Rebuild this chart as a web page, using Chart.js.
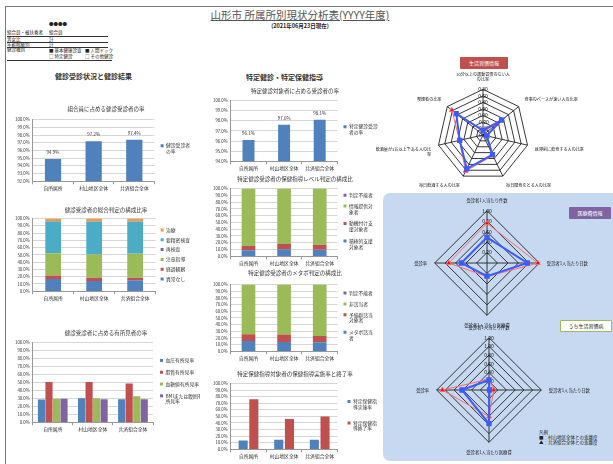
<!DOCTYPE html>
<html>
<head>
<meta charset="utf-8">
<script src="https://cdn.jsdelivr.net/npm/chart.js@4.4.0/dist/chart.umd.min.js"></script>
<style>
body{margin:0;width:613px;height:464px;overflow:hidden;background:#fff;position:relative;
  font-family:"Noto Sans CJK JP","Noto Sans",sans-serif;color:#222}
.abs{position:absolute}
.frameTop{left:5px;top:6px;width:608px;height:0;border-top:1.5px solid #777}
.frameLeft{left:5px;top:6px;width:0;height:458px;border-left:1.5px solid #777}
.title{left:0;width:600px;top:7px;text-align:center;font-size:10.5px;color:#555;text-decoration:underline}
.sub{left:0;width:600px;top:22px;text-align:center;font-size:5.5px;font-weight:bold}
.hd{font-size:4.5px;line-height:5px;white-space:nowrap}
.hline{height:0;border-top:0.8px solid #333}
.sec{font-size:7px;white-space:nowrap;color:#333;font-weight:bold}
.panel{left:383px;top:193px;width:240px;height:268px;background:#c6d9f1;border-radius:7px}
.btn{font-size:5px;color:#fff;text-align:center;line-height:12px;height:12px;border-radius:1px}
.cv{position:absolute}
</style>
</head>
<body>

<div class="abs frameTop"></div>
<div class="abs frameLeft"></div>

<div class="abs title">山形市 所属所別現状分析表(YYYY年度)</div>
<div class="abs sub">(2021年06月23日現在)</div>

<!-- header table -->
<div class="abs hd" style="left:49px;top:21px;font-weight:bold">●●●●</div>
<div class="abs hd" style="left:7px;top:30px">組合員・被扶養者</div>
<div class="abs hd" style="left:49px;top:30px">組合員</div>
<div class="abs hline" style="left:7px;top:36px;width:101px"></div>
<div class="abs hd" style="left:7px;top:37px">男女比</div>
<div class="abs hd" style="left:49px;top:37px">計</div>
<div class="abs hline" style="left:7px;top:42px;width:101px"></div>
<div class="abs hd" style="left:7px;top:42px">年齢階級別</div>
<div class="abs hd" style="left:49px;top:42px">計</div>
<div class="abs hline" style="left:7px;top:47px;width:101px"></div>
<div class="abs hd" style="left:7px;top:47px">健診種別</div>
<div class="abs hd" style="left:49px;top:48px">■ 基本健康診査</div>
<div class="abs hd" style="left:85px;top:48px">■ 人間ドック</div>
<div class="abs hd" style="left:49px;top:54px">□ 特定健診</div>
<div class="abs hd" style="left:85px;top:54px">□ その他健診</div>
<div class="abs hline" style="left:7px;top:60px;width:105px"></div>

<div class="abs sec" style="left:55px;top:71px">健診受診状況と健診結果</div>
<div class="abs sec" style="left:246px;top:72px">特定健診・特定保健指導</div>

<div class="abs panel"></div>
<div class="abs btn" style="left:460px;top:57px;width:48px;background:#c0504d">生活習慣情報</div>
<div class="abs btn" style="left:569px;top:207px;width:42px;background:#8064a2">医療費情報</div>
<div class="abs btn" style="left:560px;top:320px;width:50px;background:#fff;color:#222;border:1px solid #9bbb59;height:10px;line-height:10px">うち生活習慣病</div>
<div class="abs hd" style="left:539px;top:430px">凡例</div>
<div class="abs hd" style="left:539px;top:435px">■：村山地区全体との乖離度</div>
<div class="abs hd" style="left:539px;top:440px">▲：共済組合全体との乖離度</div>

<div class="cv" style="left:12px;top:104px;width:190px;height:88px"><canvas id="c1"></canvas></div>
<div class="cv" style="left:12px;top:205px;width:190px;height:97px"><canvas id="c2"></canvas></div>
<div class="cv" style="left:12px;top:328px;width:190px;height:105px"><canvas id="c3"></canvas></div>
<div class="cv" style="left:210px;top:86px;width:172px;height:86px"><canvas id="c4"></canvas></div>
<div class="cv" style="left:210px;top:174px;width:172px;height:93px"><canvas id="c5"></canvas></div>
<div class="cv" style="left:210px;top:268px;width:172px;height:94px"><canvas id="c6"></canvas></div>
<div class="cv" style="left:210px;top:369px;width:172px;height:91px"><canvas id="c7"></canvas></div>
<div class="cv" style="left:363px;top:67px;width:240px;height:126px"><canvas id="r1"></canvas></div>
<div class="cv" style="left:377px;top:198px;width:220px;height:130px"><canvas id="r2"></canvas></div>
<div class="cv" style="left:379px;top:325px;width:220px;height:130px"><canvas id="r3"></canvas></div>

<script>
/* ===============================
   DATA
================================ */
const categories = ["自所属所","村山地区全体","共済組合全体"];

// 組合員に占める健診受診者の率
const examLabel = ["健診受診者","の率"];
const examRate = [94.9, 97.2, 97.4];

// 健診受診者の総合判定の構成比率
const judgeLabels = ["異常なし","経過観察","注意指導","再検査","要精密検査","治療"];
const judgeNone   = [17.0, 14.0, 15.0];
const judgeWatch  = [4.7, 4.5, 3.5];
const judgeGuide  = [30.7, 32.0, 33.0];
const judgeRetest = [0.4, 0.5, 0.5];
const judgeDetail = [43.5, 45.0, 44.0];
const judgeCure   = [3.7, 4.0, 4.0];

// 健診受診者に占める有所見者の率
const findLabels = ["血圧有所見率","脂質有所見率","血糖値有所見率",["BMIまたは腹囲有","所見率"]];
const findBP    = [28.5, 30.0, 29.0];
const findLipid = [50.5, 50.5, 48.5];
const findSugar = [29.5, 30.0, 32.5];
const findBMI   = [29.5, 29.0, 29.0];

// 特定健診対象者に占める受診者の率
const tokuteiLabel = ["特定健診受診","者の率"];
const tokuteiRate = [96.1, 97.6, 98.1];

// 保健指導レベル判定の構成比
const levelLabels = [["積極的支援","対象者"],["動機付け支","援対象者"],["情報提供対","象者"],"判定不能者"];
const levelActive = [9.0, 10.5, 9.5];
const levelMotive = [6.0, 7.5, 7.5];
const levelInfo   = [85.0, 82.0, 83.0];
const levelNone   = [0.0, 0.0, 0.0];

// メタボ判定の構成比
const metaboLabels = [["メタボ該当","者"],["予備群該当","対象者"],"非該当者","判定不能者"];
const metaboYes  = [15.5, 14.0, 13.5];
const metaboPre  = [10.0, 11.0, 9.5];
const metaboNo   = [74.5, 75.0, 77.0];
const metaboNone = [0.0, 0.0, 0.0];

// 保健指導実施率と終了率
const guideLabels = [["特定保健指","導実施率"],["特定保健指","導終了率"]];
const guideStart = [13.5, 14.5, 14.5];
const guideEnd   = [76.0, 46.0, 50.0];

// 生活習慣情報 (radar)
const lifeAxes = [
  ["30分以上の運動習慣のない人","の比率"],
  "食事のペースが速い人の比率",
  "就寝前に飲食する人の比率",
  "毎日間食をとる人の比率",
  "毎日飲酒する人の比率",
  ["飲酒量が3合以上である人の比","率"],
  "喫煙者の比率"
];
const lifeMuraya = [-0.46, 0.13, -0.49, 0.07, 0.55, 0.13, 0.45];
const lifeKyosai = [-0.49, -0.05, -0.46, 0.10, 0.63, 0.14, 0.62];
const lifeTicks = [-0.6, 0.8, 0.2];

// 医療費情報 (radar)
const costAxes = ["受診者1人当たり件数","受診者1人当たり日数","受診者1人当たり医療費","受診率"];
const costMuraya = [0.49, 0.77, 0.25, 0.49];
const costKyosai = [0.76, 0.97, 0.26, 0.73];
const costTicks = [0, 1.0, 0.2];

// うち生活習慣病 (radar)
const lifeCostMuraya = [0.23, 0.01, 0.77, 0.62];
const lifeCostKyosai = [0.25, 0.11, 0.61, 1.07];
const lifeCostTicks = [0, 1.2, 0.2];

/* ===============================
   COLORS
================================ */
const BLUE="#4f81bd", RED="#c0504d", GREEN="#9bbb59", PURPLE="#8064a2", TEAL="#4bacc6", ORANGE="#f79646";

Chart.defaults.font.family = '"Noto Sans CJK JP","Noto Sans",sans-serif';
Chart.defaults.color = "#333";

/* ===============================
   HELPERS
================================ */
const valueLabels = {
  id:"valueLabels",
  afterDatasetsDraw(chart, args, opts){
    if(!opts.show) return;
    const ctx = chart.ctx;
    ctx.save();
    ctx.font = "4.5px " + Chart.defaults.font.family;
    ctx.fillStyle = "#333";
    ctx.textAlign = "center";
    chart.data.datasets.forEach((ds,i)=>{
      chart.getDatasetMeta(i).data.forEach((bar,j)=>{
        ctx.fillText(ds.data[j].toFixed(1)+"%", bar.x, bar.y-5);
      });
    });
    ctx.restore();
  }
};

function barChart(id, title, sets, opt){
  return new Chart(document.getElementById(id), {
    type:"bar",
    data:{labels:categories, datasets:sets},
    plugins:[valueLabels],
    options:{
      responsive:true, maintainAspectRatio:false, animation:false,
      layout:{padding:{top:2,right:2}},
      datasets:{bar:{categoryPercentage:opt.cat, barPercentage:opt.bar}},
      plugins:{
        title:{display:true,text:title,font:{size:5.5,weight:"normal"},color:"#333",padding:{top:0,bottom:opt.tpad}},
        legend:{position:"right",reverse:!!opt.stacked,
          labels:{boxWidth:3,boxHeight:3,font:{size:4.8},color:"#333",padding:opt.lpad||6}},
        tooltip:{enabled:false},
        valueLabels:{show:!!opt.values}
      },
      scales:{
        x:{stacked:!!opt.stacked,
          grid:{display:true,drawOnChartArea:false,tickLength:3,color:"#999",offset:true},
          border:{color:"#999"},
          ticks:{font:{size:4.8},color:"#333",maxRotation:0,padding:1}},
        y:{stacked:!!opt.stacked,min:opt.min,max:opt.max,
          ticks:{stepSize:opt.step,autoSkip:false,font:{size:4.3},color:"#333",padding:3,
            callback:v=>v.toFixed(1)+"%"},
          grid:{color:"#bbb",tickLength:0,lineWidth:0.6},
          border:{color:"#999"}}
      }
    }
  });
}

function radarChart(id, axes, muraya, kyosai, ticks, labelSize){
  return new Chart(document.getElementById(id), {
    type:"radar",
    data:{labels:axes, datasets:[
      {label:"村山地区全体",data:muraya,borderColor:"#3b5bff",backgroundColor:"#3b5bff",
        borderWidth:2,pointStyle:"rect",pointRadius:2.3,fill:false},
      {label:"共済組合全体",data:kyosai,borderColor:"#ff6b6b",backgroundColor:"#ff0000",
        borderWidth:1,pointStyle:"triangle",pointRadius:2.8,fill:false}
    ]},
    options:{
      responsive:true, maintainAspectRatio:false, animation:false,
      plugins:{legend:{display:false},tooltip:{enabled:false}},
      scales:{r:{min:ticks[0],max:ticks[1],
        ticks:{stepSize:ticks[2],font:{size:5},color:"#111",showLabelBackdrop:false,
          callback:v=>v.toFixed(2)},
        grid:{color:"#222",lineWidth:0.9},
        angleLines:{color:"#222",lineWidth:0.9},
        pointLabels:{font:{size:labelSize},color:"#222",padding:3}}}
    }
  });
}

/* ===============================
   LEFT COLUMN
================================ */
barChart("c1","組合員に占める健診受診者の率",[
  {label:examLabel,data:examRate,backgroundColor:BLUE}
],{min:92,max:100,step:1,cat:0.8,bar:0.5,tpad:7,values:true});

barChart("c2","健診受診者の総合判定の構成比率",[
  {label:judgeLabels[0],data:judgeNone,backgroundColor:BLUE},
  {label:judgeLabels[1],data:judgeWatch,backgroundColor:RED},
  {label:judgeLabels[2],data:judgeGuide,backgroundColor:GREEN},
  {label:judgeLabels[3],data:judgeRetest,backgroundColor:PURPLE},
  {label:judgeLabels[4],data:judgeDetail,backgroundColor:TEAL},
  {label:judgeLabels[5],data:judgeCure,backgroundColor:ORANGE}
],{min:0,max:100,step:10,cat:0.8,bar:0.48,tpad:5,stacked:true,lpad:5});

barChart("c3","健診受診者に占める有所見者の率",[
  {label:findLabels[0],data:findBP,backgroundColor:BLUE},
  {label:findLabels[1],data:findLipid,backgroundColor:RED},
  {label:findLabels[2],data:findSugar,backgroundColor:GREEN},
  {label:findLabels[3],data:findBMI,backgroundColor:PURPLE}
],{min:0,max:100,step:10,cat:0.75,bar:0.95,tpad:6,lpad:7});

/* ===============================
   MIDDLE COLUMN
================================ */
barChart("c4","特定健診対象者に占める受診者の率",[
  {label:tokuteiLabel,data:tokuteiRate,backgroundColor:BLUE}
],{min:94,max:100,step:1,cat:0.8,bar:0.42,tpad:6,values:true});

barChart("c5","特定健診受診者の保健指導レベル判定の構成比",[
  {label:levelLabels[0],data:levelActive,backgroundColor:BLUE},
  {label:levelLabels[1],data:levelMotive,backgroundColor:RED},
  {label:levelLabels[2],data:levelInfo,backgroundColor:GREEN},
  {label:levelLabels[3],data:levelNone,backgroundColor:PURPLE}
],{min:0,max:100,step:10,cat:0.8,bar:0.48,tpad:6,stacked:true,lpad:6});

barChart("c6","特定健診受診者のメタボ判定の構成比",[
  {label:metaboLabels[0],data:metaboYes,backgroundColor:BLUE},
  {label:metaboLabels[1],data:metaboPre,backgroundColor:RED},
  {label:metaboLabels[2],data:metaboNo,backgroundColor:GREEN},
  {label:metaboLabels[3],data:metaboNone,backgroundColor:PURPLE}
],{min:0,max:100,step:10,cat:0.8,bar:0.48,tpad:8,stacked:true,lpad:6});

barChart("c7","特定保健指導対象者の保健指導実施率と終了率",[
  {label:guideLabels[0],data:guideStart,backgroundColor:BLUE},
  {label:guideLabels[1],data:guideEnd,backgroundColor:RED}
],{min:0,max:100,step:10,cat:0.6,bar:0.85,tpad:6,lpad:10});

/* ===============================
   RIGHT COLUMN (RADARS)
================================ */
radarChart("r1",lifeAxes,lifeMuraya,lifeKyosai,lifeTicks,4.1);
radarChart("r2",costAxes,costMuraya,costKyosai,costTicks,4.3);
radarChart("r3",costAxes,lifeCostMuraya,lifeCostKyosai,lifeCostTicks,4.3);
</script>
</body>
</html>
